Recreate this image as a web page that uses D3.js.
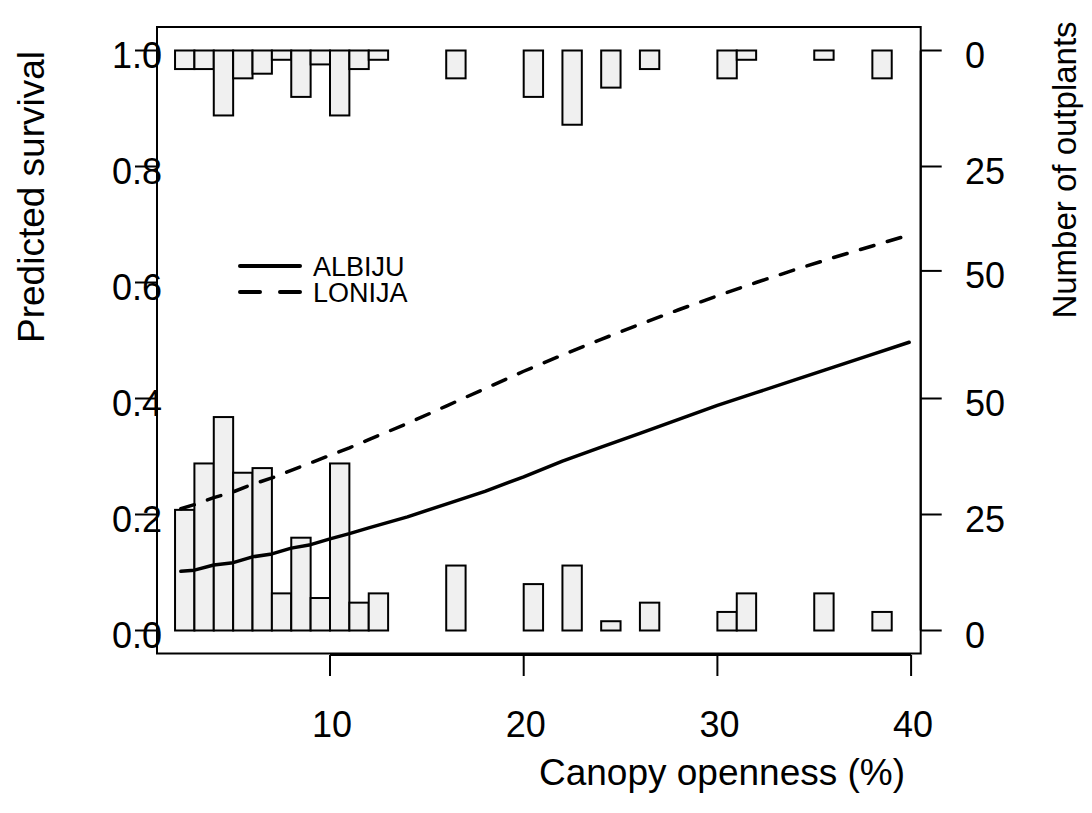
<!DOCTYPE html>
<html>
<head>
<meta charset="utf-8">
<script src="https://cdn.jsdelivr.net/npm/d3@7"></script>
<style>
  body { margin: 0; background: #fff; }
  svg text { font-family: "Liberation Sans", Arial, sans-serif; fill: #000; }
  svg text.narrow { font-family: "Liberation Sans Narrow", "Liberation Sans", Arial, sans-serif; }
</style>
</head>
<body>
<div class="chart"></div>
<script>
// histogram bins (left edge, width 1)
var binStarts = [2, 3, 4, 5, 6, 7, 8, 9, 10, 11, 12, 16, 20, 22, 24, 26, 30, 31, 35, 38];
var aliveCounts = [4, 4, 14, 6, 5, 2, 10, 3, 14, 4, 2, 6, 10, 16, 8, 4, 6, 2, 2, 6];   // top bars
var deadCounts = [26, 36, 46, 34, 35, 8, 20, 7, 36, 6, 8, 14, 10, 14, 2, 6, 4, 8, 8, 4];  // bottom bars

// predicted survival curves
var openness = [2.3, 3, 4, 5, 6, 7, 8, 9, 10, 11, 12, 14, 16, 18, 20, 22, 24, 26, 28, 30, 32, 34, 36, 38, 39.9];
var albiju = [0.102, 0.104, 0.113, 0.117, 0.127, 0.132, 0.142, 0.148, 0.158, 0.167, 0.177, 0.196, 0.218, 0.240, 0.265, 0.292, 0.316, 0.340, 0.364, 0.388, 0.410, 0.432, 0.454, 0.476, 0.497];
var lonija = [0.210, 0.217, 0.229, 0.239, 0.252, 0.263, 0.276, 0.289, 0.302, 0.315, 0.329, 0.357, 0.387, 0.417, 0.447, 0.475, 0.502, 0.528, 0.553, 0.577, 0.600, 0.622, 0.643, 0.663, 0.682];

var xTicks = [10, 20, 30, 40];
var yTicks = [0, 0.2, 0.4, 0.6, 0.8, 1.0];
var bottomCountTicks = [0, 25, 50];
var topCountTicks = [0, 25, 47.5];
var countLabels = ["0", "25", "50"];
var legendNames = ['ALBIJU', 'LONIJA'];

var width = 1092, height = 813;
var box = {left: 157, right: 920.7, top: 27, bottom: 653.5};

var svg = d3.select('.chart').append('svg').attr('width', width).attr('height', height);

var x = d3.scaleLinear().domain([0, 40]).range([136.3, 911.1]);
var y = d3.scaleLinear().domain([0, 1]).range([630.5, 50.5]);
// counts drawn up from 0 and down from 1, 25 counts = 0.2
var yDead = d3.scaleLinear().domain([0, 25]).range([y(0), y(0.2)]);
var yAlive = d3.scaleLinear().domain([0, 25]).range([y(1), y(0.8)]);

// bars
var bars = svg.append('g').attr('fill', '#f0f0f0').attr('stroke', '#000').attr('stroke-width', 2);
bars.selectAll('.dead').data(binStarts).enter().append('rect')
    .attr('x', function(d) { return x(d); })
    .attr('width', function(d) { return x(d + 1) - x(d); })
    .attr('y', function(d, i) { return yDead(deadCounts[i]); })
    .attr('height', function(d, i) { return yDead(0) - yDead(deadCounts[i]); });
bars.selectAll('.alive').data(binStarts).enter().append('rect')
    .attr('x', function(d) { return x(d); })
    .attr('width', function(d) { return x(d + 1) - x(d); })
    .attr('y', yAlive(0))
    .attr('height', function(d, i) { return yAlive(aliveCounts[i]) - yAlive(0); });

// curves
var line = d3.line()
    .x(function(d, i) { return x(openness[i]); })
    .y(function(d) { return y(d); });

svg.append('path').datum(albiju).attr('d', line)
    .attr('fill', 'none').attr('stroke', '#000').attr('stroke-width', 3.5)
    .attr('stroke-linecap', 'round').attr('stroke-linejoin', 'round');
svg.append('path').datum(lonija).attr('d', line)
    .attr('fill', 'none').attr('stroke', '#000').attr('stroke-width', 3.5)
    .attr('stroke-linecap', 'round').attr('stroke-linejoin', 'round')
    .attr('stroke-dasharray', '14,14');

// box
svg.append('rect').attr('x', box.left).attr('y', box.top)
    .attr('width', box.right - box.left).attr('height', box.bottom - box.top)
    .attr('fill', 'none').attr('stroke', '#000').attr('stroke-width', 2);

// bottom axis
var xAxis = svg.append('g');
xAxis.append('line').attr('x1', x(10)).attr('x2', x(40)).attr('y1', 655).attr('y2', 655)
    .attr('stroke', '#000').attr('stroke-width', 2);
xAxis.selectAll('.tick').data(xTicks).enter().append('line')
    .attr('x1', function(d) { return x(d); }).attr('x2', function(d) { return x(d); })
    .attr('y1', 655).attr('y2', 676).attr('stroke', '#000').attr('stroke-width', 2);
xAxis.selectAll('.lbl').data(xTicks).enter().append('text')
    .attr('x', function(d) { return x(d) + 2; }).attr('y', 737)
    .attr('text-anchor', 'middle').attr('font-size', 36)
    .text(function(d) { return d; });

// left axis
var yAxis = svg.append('g');
yAxis.selectAll('.tick').data(yTicks).enter().append('line')
    .attr('x1', box.left - 22).attr('x2', box.left)
    .attr('y1', function(d) { return y(d); }).attr('y2', function(d) { return y(d); })
    .attr('stroke', '#000').attr('stroke-width', 2);
yAxis.selectAll('.lbl').data(yTicks).enter().append('text')
    .attr('x', 162).attr('y', function(d) { return y(d) + 17; })
    .attr('text-anchor', 'end').attr('font-size', 36)
    .text(function(d) { return d3.format('.1f')(d); });

// right axis (counts)
var rAxis = svg.append('g');
rAxis.append('line').attr('x1', box.right).attr('x2', box.right)
    .attr('y1', yAlive(0)).attr('y2', yDead(0)).attr('stroke', '#000').attr('stroke-width', 2);
var rightTicks = bottomCountTicks.map(function(c, i) { return {pos: yDead(c), label: countLabels[i]}; })
    .concat(topCountTicks.map(function(c, i) { return {pos: yAlive(c), label: countLabels[i]}; }));
rAxis.selectAll('.tick').data(rightTicks).enter().append('line')
    .attr('x1', box.right).attr('x2', box.right + 21)
    .attr('y1', function(d) { return d.pos; }).attr('y2', function(d) { return d.pos; })
    .attr('stroke', '#000').attr('stroke-width', 2);
rAxis.selectAll('.lbl').data(rightTicks).enter().append('text')
    .attr('x', 965).attr('y', function(d) { return d.pos + 17.5; })
    .attr('font-size', 36)
    .text(function(d) { return d.label; });

// axis titles
svg.append('text').attr('transform', 'translate(44,197) rotate(-90)')
    .attr('text-anchor', 'middle').attr('font-size', 37).text('Predicted survival');
svg.append('text').attr('class', 'narrow').attr('transform', 'translate(1076,170) rotate(-90)')
    .attr('text-anchor', 'middle').attr('font-size', 33).text('Number of outplants');
svg.append('text').attr('x', 722).attr('y', 785)
    .attr('text-anchor', 'middle').attr('font-size', 37).text('Canopy openness (%)');

// legend
var legend = svg.append('g');
legend.selectAll('line').data(legendNames).enter().append('line')
    .attr('x1', 240).attr('x2', 300)
    .attr('y1', function(d, i) { return 266 + i * 26; }).attr('y2', function(d, i) { return 266 + i * 26; })
    .attr('stroke', '#000').attr('stroke-width', 4).attr('stroke-linecap', 'round')
    .attr('stroke-dasharray', function(d, i) { return i ? '20,20' : null; });
legend.selectAll('text').data(legendNames).enter().append('text')
    .attr('x', 313).attr('y', function(d, i) { return 266 + i * 26 + 10; })
    .attr('font-size', 27).text(function(d) { return d; });
</script>
</body>
</html>
